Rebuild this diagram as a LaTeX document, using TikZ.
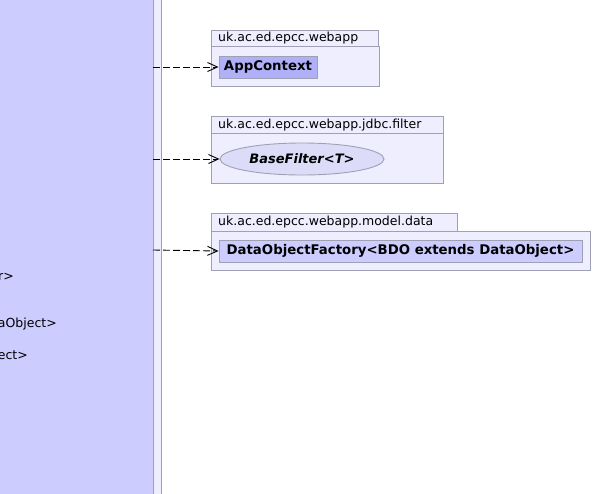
\documentclass[tikz,border=0pt]{standalone}
\usepackage{fontspec}
\setmainfont{DejaVu Sans}
\usetikzlibrary{arrows.meta,shapes.geometric}
\definecolor{lav}{HTML}{CCCCFF}
\definecolor{pale}{HTML}{EEEEFF}
\definecolor{edge}{HTML}{A0A0B4}
\definecolor{edgedark}{HTML}{8C8CB0}
\definecolor{cls}{HTML}{B0B0F8}
\definecolor{ell}{HTML}{DCDCF8}
\tikzset{
  pkgbox/.style={draw=edge, fill=pale, line width=0.9pt},
  pkglabel/.style={anchor=west, font=\fontsize{12.5}{14}\selectfont, inner sep=0pt},
  clsbox/.style={draw=edge, line width=0.9pt, font=\bfseries\fontsize{13.3}{15}\selectfont, inner sep=0pt},
  dep/.style={dash pattern=on 7pt off 3pt, line width=0.9pt, -{Straight Barb[length=10pt,width=9pt]}},
  frag/.style={anchor=east, font=\fontsize{12.5}{14}\selectfont, inner sep=0pt}
}
\begin{document}
\begin{tikzpicture}[x=1pt,y=-1pt]
\useasboundingbox (0,0) rectangle (593,493);
\fill[white] (0,0) rectangle (593,493);
% left panel
\draw[fill=lav, draw=edgedark, line width=0.9pt] (-5,-5) rectangle (153,498);
\draw[fill=pale, draw=edge, line width=0.9pt] (153,-5) rectangle (161,498);
\coordinate (s1) at (153,67);
\coordinate (s2) at (153,159);
\coordinate (s3) at (153,250);
\node[frag] (f1) at (14,277) {r>};
\node[frag] (f2) at (57,324) {aObject>};
\node[frag] (f3) at (28,355) {ect>};
% package 1
\draw[pkgbox] (211,30) rectangle (378,46);
\draw[pkgbox] (211,46) rectangle (379,86);
\node[pkglabel] (p1) at (218,38.5) {uk.ac.ed.epcc.webapp};
\node[clsbox, fill=cls, minimum width=98pt, minimum height=22pt] (c1) at (268,67) {AppContext};
% package 2
\draw[pkgbox] (211,116) rectangle (443,133);
\draw[pkgbox] (211,133) rectangle (443,183);
\node[pkglabel] (p2) at (218,125) {uk.ac.ed.epcc.webapp.jdbc.filter};
\node[clsbox, ellipse, fill=ell, minimum width=164pt, minimum height=32pt, font=\bfseries\itshape\fontsize{13}{15}\selectfont] (c2) at (302,159) {BaseFilter<T>};
% package 3
\draw[pkgbox] (211,213) rectangle (457,231);
\draw[pkgbox] (211,231) rectangle (590,270);
\node[pkglabel] (p3) at (218,222) {uk.ac.ed.epcc.webapp.model.data};
\node[clsbox, fill=lav, minimum width=363pt, minimum height=22pt] (c3) at (400.5,251) {DataObjectFactory<BDO extends DataObject>};
% dependencies
\draw[dep] (s1) -- (c1.west);
\draw[dep] (s2) -- (c2.west);
\draw[dep] (s3) -- (c3.west);
\end{tikzpicture}
\end{document}
